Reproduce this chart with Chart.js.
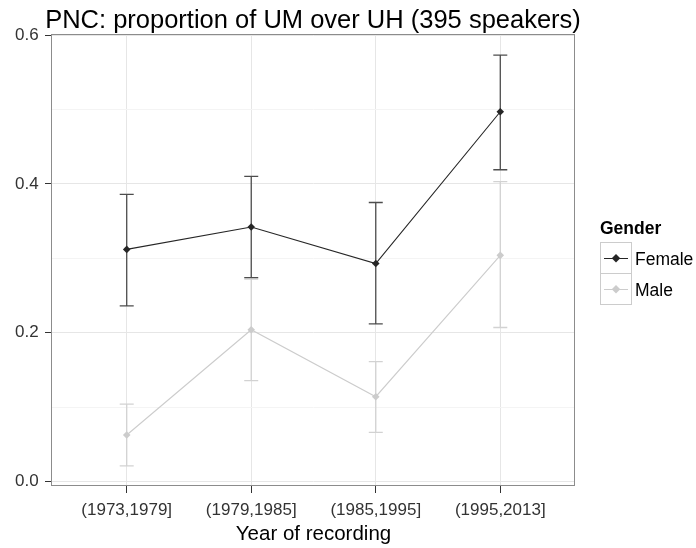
<!DOCTYPE html>
<html>
<head>
<meta charset="utf-8">
<script src="https://cdn.jsdelivr.net/npm/chart.js@4.4.1/dist/chart.umd.min.js"></script>
<style>
  body { margin: 0; background: #fff; }
  #wrap { position: relative; width: 696px; height: 548px; font-family: "Liberation Sans", Arial, sans-serif; }
  #title { position: absolute; left: 0; width: 626px; top: 4px; text-align: center; font-size: 25.5px; line-height: 30px; color: #000; white-space: nowrap; }
  .ltitle { position: absolute; left: 600px; top: 218px; font-size: 17.5px; line-height: 20px; font-weight: bold; color: #000; }
  .key { position: absolute; left: 600px; width: 32px; height: 32px; box-sizing: border-box; border: 1px solid #cccccc; }
  .kline { position: absolute; left: 3px; right: 3px; top: 14.5px; height: 1px; }
  .kpt { position: absolute; left: 50%; top: 50%; width: 5.5px; height: 5.5px; transform: translate(-50%, -50%) rotate(45deg); }
  .llab { position: absolute; left: 635px; font-size: 17.5px; line-height: 20px; color: #000; }
</style>
</head>
<body>
<div id="wrap">
  <canvas id="plot" width="696" height="548"></canvas>
  <div id="title">PNC: proportion of UM over UH (395 speakers)</div>
  <div class="ltitle">Gender</div>
  <div class="key" style="top:242px"><span class="kline" style="background:#262626"></span><span class="kpt" style="background:#262626"></span></div>
  <div class="key" style="top:273px"><span class="kline" style="background:#cccccc"></span><span class="kpt" style="background:#cccccc"></span></div>
  <div class="llab" style="top:249px">Female</div>
  <div class="llab" style="top:280px">Male</div>
</div>
<script>
// values
const categories = ['(1973,1979]', '(1979,1985]', '(1985,1995]', '(1995,2013]'];
const femaleProp = [0.312, 0.342, 0.293, 0.497];
const femaleLow  = [0.236, 0.274, 0.212, 0.419];
const femaleHigh = [0.386, 0.410, 0.375, 0.573];
const maleProp = [0.0625, 0.204, 0.114, 0.304];
const maleLow  = [0.021, 0.1355, 0.066, 0.207];
const maleHigh = [0.104, 0.272, 0.161, 0.403];
const yTicks = [0, 0.1, 0.2, 0.3, 0.4, 0.5, 0.6];

const femaleCol = '#262626', femaleBarCol = '#4d4d4d';
const maleCol = '#cccccc', maleBarCol = '#d2d2d2';

function isMajor(v) { return Math.round(v * 10) % 2 === 0; }

function points(vals) {
  return vals.map((v, i) => ({x: i, y: v}));
}

const errorBars = {
  id: 'errorBars',
  beforeDatasetsDraw(chart) {
    const ctx = chart.ctx, xs = chart.scales.x, ys = chart.scales.y;
    const sets = [[maleLow, maleHigh, maleBarCol], [femaleLow, femaleHigh, femaleBarCol]];
    ctx.save();
    sets.forEach(s => {
      ctx.strokeStyle = s[2];
      ctx.lineWidth = 1.3;
      for (let i = 0; i < categories.length; i++) {
        const px = xs.getPixelForValue(i);
        const lo = ys.getPixelForValue(s[0][i]), hi = ys.getPixelForValue(s[1][i]);
        ctx.beginPath();
        ctx.moveTo(px, lo); ctx.lineTo(px, hi);
        ctx.moveTo(px - 7, lo); ctx.lineTo(px + 7, lo);
        ctx.moveTo(px - 7, hi); ctx.lineTo(px + 7, hi);
        ctx.stroke();
      }
    });
    ctx.restore();
  }
};

const panelBorder = {
  id: 'panelBorder',
  afterDraw(chart) {
    const a = chart.chartArea, ctx = chart.ctx;
    ctx.save();
    ctx.strokeStyle = '#8c8c8c';
    ctx.lineWidth = 1;
    ctx.strokeRect(Math.round(a.left) - 0.5, Math.round(a.top) + 0.5, Math.round(a.right - a.left), Math.round(a.bottom - a.top) - 1);
    ctx.restore();
  }
};

new Chart(document.getElementById('plot'), {
  type: 'line',
  data: {
    datasets: [
      {label: 'Female', data: points(femaleProp), borderColor: femaleCol, borderWidth: 1.1,
       pointStyle: 'rectRot', pointRadius: 3.8, pointBackgroundColor: femaleCol, pointBorderWidth: 0, tension: 0},
      {label: 'Male', data: points(maleProp), borderColor: maleCol, borderWidth: 1.1,
       pointStyle: 'rectRot', pointRadius: 3.8, pointBackgroundColor: maleCol, pointBorderWidth: 0, tension: 0}
    ]
  },
  options: {
    responsive: false,
    animation: false,
    devicePixelRatio: 1,
    layout: {padding: {top: 34, right: 121, left: 0, bottom: 0}},
    plugins: {legend: {display: false}, title: {display: false}, tooltip: {enabled: false}},
    scales: {
      x: {
        type: 'linear', min: -0.6, max: 3.6,
        afterBuildTicks: s => { s.ticks = categories.map((c, i) => ({value: i})); },
        afterFit: s => { s.height = 62; },
        grid: {color: '#e6e6e6', tickColor: '#333333', tickLength: 7},
        border: {display: false},
        ticks: {padding: 7, color: '#333333', font: {family: '"Liberation Sans", Arial', size: 17},
                maxRotation: 0, autoSkip: false, callback: v => categories[v]},
        title: {display: true, text: 'Year of recording', color: '#000',
                font: {family: '"Liberation Sans", Arial', size: 20.5, lineHeight: 1}, padding: {top: 0, bottom: 3.7}}
      },
      y: {
        min: -0.00605, max: 0.6015,
        afterBuildTicks: s => { s.ticks = yTicks.map(v => ({value: v})); },
        afterFit: s => { s.width = 52; },
        grid: {color: c => isMajor(c.tick.value) ? '#e6e6e6' : '#f4f4f4',
               tickColor: c => isMajor(c.tick.value) ? '#333333' : 'rgba(0,0,0,0)', tickLength: 7},
        border: {display: false},
        ticks: {padding: 6.4, color: '#333333', font: {family: '"Liberation Sans", Arial', size: 17},
                callback: v => isMajor(v) ? v.toFixed(1) : ''}
      }
    }
  },
  plugins: [errorBars, panelBorder]
});
</script>
</body>
</html>
